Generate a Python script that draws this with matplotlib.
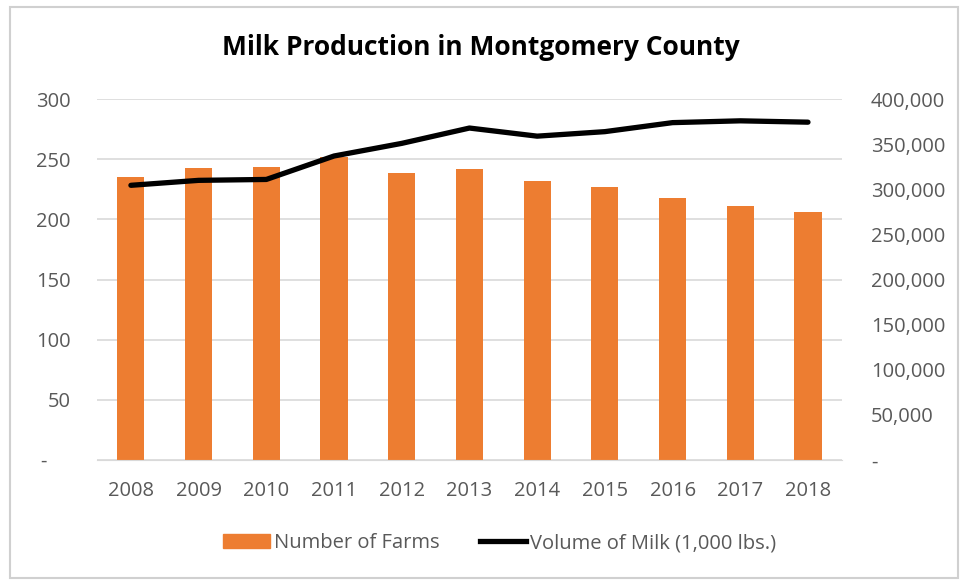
import matplotlib.pyplot as plt
import matplotlib.ticker as mticker
from matplotlib.patches import Rectangle
from matplotlib.lines import Line2D

# data
years = ["2008", "2009", "2010", "2011", "2012", "2013", "2014", "2015", "2016", "2017", "2018"]
farms = [235, 243, 244, 252, 239, 242, 232, 227, 218, 211, 206]
milk = [304500, 310000, 311000, 337000, 351000, 368000, 359000, 364000, 374000, 376000, 374500]

plt.rcParams['font.family'] = ['Open Sans', 'DejaVu Sans']
gray = "#595959"
fs = 14.5

fig = plt.figure(figsize=(9.61, 5.80), dpi=100)
ax = fig.add_axes([0.101, 0.207, 0.775, 0.622])
ax2 = ax.twinx()

x = range(len(years))
ax.bar(x, farms, width=0.4, color="#ED7D31", label="Number of Farms", zorder=2)
ax2.plot(x, milk, color="black", lw=3.8, solid_capstyle="round", label="Volume of Milk (1,000 lbs.)")

ax.set_xlim(-0.5, len(years) - 0.5)
ax.set_ylim(0, 300)
ax2.set_ylim(0, 400000)
ax.set_yticks(range(0, 301, 50))
ax2.set_yticks(range(0, 400001, 50000))
ax.yaxis.set_major_formatter(mticker.FuncFormatter(lambda v, p: "-\u2007\u2007" if v == 0 else f"{int(v)}"))
ax2.yaxis.set_major_formatter(mticker.FuncFormatter(lambda v, p: "-" if v == 0 else f"{int(v):,}"))
ax.set_xticks(list(x))
ax.set_xticklabels(years)

ax.grid(axis="y", color="#d9d9d9", lw=1.2, zorder=0)
ax.set_axisbelow(True)
for a in (ax, ax2):
    for s in a.spines.values():
        s.set_visible(False)
    a.tick_params(length=0, labelsize=fs, labelcolor=gray)
ax.spines["bottom"].set_visible(True)
ax.spines["bottom"].set_color("#d9d9d9")
ax.tick_params(axis="y", pad=19)
ax2.tick_params(axis="y", pad=21)
ax.tick_params(axis="x", pad=15)

fig.text(0.5, 0.918, "Milk Production in Montgomery County", ha="center", va="center",
         fontsize=19, fontweight="bold", color="black")

handles = [Rectangle((0, 0), 1, 1, color="#ED7D31"), Line2D([0], [0], color="black", lw=3.8)]
fig.legend(handles, ["Number of Farms", "Volume of Milk (1,000 lbs.)"], loc="center",
           bbox_to_anchor=(0.52, 0.063), ncol=2, frameon=False, fontsize=fs,
           labelcolor=gray, columnspacing=2.0, handlelength=2.3, handletextpad=0.2)

fig.patches.append(Rectangle((0.010, 0.004), 0.987, 0.984, transform=fig.transFigure,
                             fill=False, edgecolor="#d0d0d0", lw=1.5))

plt.savefig("out.png", dpi=100)
